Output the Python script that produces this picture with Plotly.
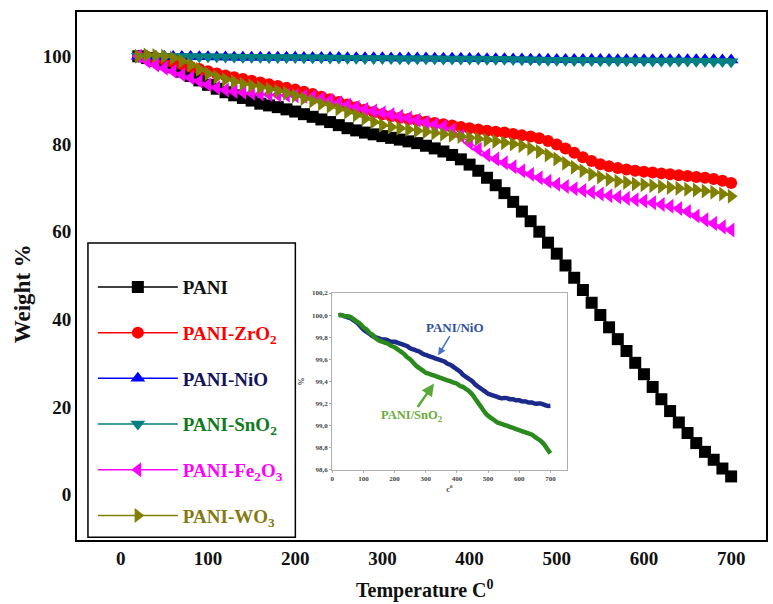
import plotly.graph_objects as go

temperature = list(range(20, 710, 10))

pani = [100.0, 99.6, 99.0, 98.3, 97.5, 96.5, 95.5, 94.5, 93.5, 92.6,
        91.8, 91.1, 90.5, 89.9, 89.2, 88.8, 88.4, 87.9, 87.4, 86.8,
        86.2, 85.6, 85.0, 84.3, 83.6, 83.1, 82.6, 82.2, 81.8, 81.4,
        81.0, 80.6, 80.2, 79.6, 79.0, 78.3, 77.5, 76.5, 75.3, 73.9,
        72.3, 70.6, 68.8, 66.8, 64.6, 62.4, 60.0, 57.5, 55.0, 52.3,
        49.5, 46.7, 43.8, 41.0, 38.2, 35.5, 32.8, 30.1, 27.5, 24.6,
        21.8, 19.1, 16.5, 14.1, 11.8, 9.8, 8.0, 6.0, 4.2]

pani_zro2 = [100.0, 99.9, 99.6, 99.2, 98.7, 98.2, 97.6, 97.1, 96.6, 96.1,
             95.6, 95.2, 94.8, 94.4, 94.0, 93.6, 93.2, 92.8, 92.4, 91.9,
             91.4, 90.8, 90.2, 89.6, 89.0, 88.4, 87.8, 87.3, 86.8, 86.4,
             86.0, 85.7, 85.4, 85.1, 84.8, 84.5, 84.2, 83.9, 83.6, 83.3,
             83.0, 82.8, 82.6, 82.3, 82.0, 81.7, 81.3, 80.7, 79.9, 79.0,
             78.0, 77.0, 76.1, 75.4, 74.9, 74.5, 74.2, 73.9, 73.7, 73.5,
             73.3, 73.1, 72.9, 72.7, 72.5, 72.3, 72.0, 71.6, 71.1]

pani_nio = [100.00, 100.00, 99.99, 99.98, 99.97, 99.95, 99.93, 99.90, 99.87, 99.85,
            99.83, 99.81, 99.80, 99.79, 99.78, 99.78, 99.77, 99.76, 99.76, 99.75,
            99.74, 99.73, 99.72, 99.70, 99.69, 99.68, 99.67, 99.65, 99.64, 99.63,
            99.62, 99.61, 99.60, 99.59, 99.58, 99.56, 99.55, 99.53, 99.51, 99.49,
            99.46, 99.44, 99.42, 99.40, 99.37, 99.35, 99.33, 99.31, 99.29, 99.28,
            99.27, 99.26, 99.25, 99.25, 99.25, 99.24, 99.24, 99.23, 99.23, 99.22,
            99.22, 99.21, 99.21, 99.20, 99.20, 99.20, 99.19, 99.18, 99.18]

pani_sno2 = [100.00, 100.00, 99.99, 99.99, 99.98, 99.96, 99.94, 99.92, 99.89, 99.87,
             99.84, 99.82, 99.79, 99.77, 99.76, 99.75, 99.74, 99.72, 99.71, 99.69,
             99.67, 99.65, 99.62, 99.60, 99.57, 99.54, 99.52, 99.50, 99.48, 99.47,
             99.46, 99.45, 99.44, 99.43, 99.42, 99.41, 99.40, 99.39, 99.38, 99.36,
             99.35, 99.33, 99.31, 99.28, 99.24, 99.20, 99.16, 99.12, 99.09, 99.07,
             99.05, 99.03, 99.02, 99.01, 99.00, 98.99, 98.98, 98.97, 98.96, 98.95,
             98.94, 98.93, 98.92, 98.90, 98.88, 98.86, 98.83, 98.79, 98.75]

pani_fe2o3 = [100.0, 98.9, 98.0, 97.3, 96.6, 95.8, 95.1, 94.3, 93.5, 92.8,
              92.3, 92.0, 91.8, 91.6, 91.4, 91.3, 91.2, 91.1, 91.0, 90.9,
              90.7, 90.3, 89.9, 89.4, 88.9, 88.4, 87.9, 87.5, 87.1, 86.7,
              86.3, 85.9, 85.4, 84.9, 84.4, 84.0, 83.2, 81.8, 80.2, 78.8,
              77.5, 76.6, 75.7, 74.8, 73.9, 73.1, 72.3, 71.5, 70.8, 70.3,
              69.8, 69.4, 69.0, 68.6, 68.2, 67.9, 67.6, 67.3, 67.0, 66.6,
              66.2, 65.8, 65.3, 64.6, 63.6, 62.7, 61.9, 61.1, 60.4]

pani_wo3 = [100.0, 100.3, 100.2, 100.0, 99.6, 98.9, 98.0, 97.0, 96.0, 95.3,
            94.7, 94.2, 93.7, 93.3, 92.9, 92.5, 92.1, 91.6, 91.0, 90.4,
            89.8, 89.2, 88.6, 88.0, 87.3, 86.6, 85.8, 85.0, 84.3, 83.9,
            83.6, 83.3, 83.0, 82.8, 82.5, 82.2, 82.0, 81.7, 81.4, 81.2,
            80.9, 80.6, 80.3, 80.0, 79.6, 79.0, 78.3, 77.5, 76.6, 75.6,
            74.7, 73.9, 73.1, 72.5, 71.9, 71.5, 71.2, 70.9, 70.7, 70.5,
            70.3, 70.1, 69.9, 69.7, 69.5, 69.3, 69.0, 68.6, 68.1]

series_names = ["PANI", "PANI-ZrO<sub>2</sub>", "PANI-NiO", "PANI-SnO<sub>2</sub>",
                "PANI-Fe<sub>2</sub>O<sub>3</sub>", "PANI-WO<sub>3</sub>"]
x_ticks = [0, 100, 200, 300, 400, 500, 600, 700]
y_ticks = [0, 20, 40, 60, 80, 100]
inset_y_ticks = [98.6, 98.8, 99.0, 99.2, 99.4, 99.6, 99.8, 100.0, 100.2]
inset_y_labels = ["98,6", "98,8", "99,0", "99,2", "99,4", "99,6", "99,8", "100,0", "100,2"]

series_values = [pani, pani_zro2, pani_nio, pani_sno2, pani_fe2o3, pani_wo3]
line_colors = ["#000000", "#ff0000", "#0000ff", "#008080", "#ff00ff", "#808000"]
text_colors = ["#111111", "#ff0000", "#13135e", "#107a1c", "#ff00ff", "#857a12"]
symbols = ["square", "circle", "triangle-up", "triangle-down", "triangle-left", "triangle-right"]
sizes = [12, 12, 13, 13, 13, 13]

SERIF = "Liberation Serif, Times New Roman, serif"

fig = go.Figure()
for i, (nm, vals, lc, tc, sym, sz) in enumerate(zip(series_names, series_values, line_colors,
                                                     text_colors, symbols, sizes)):
    fig.add_trace(go.Scatter(
        x=temperature, y=vals, mode="lines+markers",
        name=f"<span style='color:{tc}'>{nm}</span>",
        line=dict(color=lc, width=1.5),
        marker=dict(symbol=sym, size=sz, color=lc, line=dict(width=0)),
        legendgroup=str(i), xaxis="x", yaxis="y",
    ))

# inset
fig.add_trace(go.Scatter(x=temperature, y=pani_nio, mode="lines", showlegend=False,
                         line=dict(color="#1c2a8c", width=4.5, shape="spline"),
                         xaxis="x2", yaxis="y2"))
fig.add_trace(go.Scatter(x=temperature, y=pani_sno2, mode="lines", showlegend=False,
                         line=dict(color="#2a8a1e", width=4.5, shape="spline"),
                         xaxis="x2", yaxis="y2"))

fig.update_layout(
    width=773, height=604,
    margin=dict(l=77, r=5, t=12, b=64),
    paper_bgcolor="white", plot_bgcolor="white",
    font=dict(family=SERIF, color="black"),
    xaxis=dict(range=[-50.3, 740], tickvals=x_ticks, showline=True, linecolor="black",
               linewidth=2, mirror=True, ticks="", showgrid=False, zeroline=False,
               tickfont=dict(family=SERIF, size=19, weight="bold", color="#111")),
    yaxis=dict(range=[-10.3, 110.1], tickvals=y_ticks, showline=True, linecolor="black",
               linewidth=2, mirror=True, ticks="", showgrid=False, zeroline=False,
               tickfont=dict(family=SERIF, size=19, weight="bold", color="#111")),
    xaxis2=dict(domain=[0.3705, 0.7106], anchor="y2", range=[0, 752], tickvals=x_ticks,
                showline=True, linecolor="#b0b0b0", linewidth=1, mirror=True,
                ticks="outside", ticklen=2, tickcolor="#b0b0b0", showgrid=False, zeroline=False,
                tickfont=dict(family=SERIF, size=7, weight="bold", color="#444"),
                title=dict(text="c<sup>o</sup>", standoff=2,
                           font=dict(family=SERIF, size=8, weight="bold", color="#444"))),
    yaxis2=dict(domain=[0.1326, 0.4678], anchor="x2", range=[98.6, 100.2],
                tickvals=inset_y_ticks, ticktext=inset_y_labels,
                showline=True, linecolor="#b0b0b0", linewidth=1, mirror=True,
                ticks="outside", ticklen=2, tickcolor="#b0b0b0", showgrid=False, zeroline=False,
                tickfont=dict(family=SERIF, size=7, weight="bold", color="#444"),
                title=dict(text="%", standoff=6,
                           font=dict(family=SERIF, size=8, weight="bold", color="#444"))),
    legend=dict(x=0.023, y=0.515, xanchor="left", yanchor="top",
                bgcolor="rgba(0,0,0,0)", borderwidth=0,
                font=dict(family=SERIF, size=19, weight="bold"),
                itemwidth=80, tracegroupgap=18),
    shapes=[dict(type="rect", xref="paper", yref="paper", x0=0.0159, x1=0.3169,
                 y0=0.005, y1=0.5625, line=dict(color="black", width=1.5),
                 fillcolor="white", layer="below")],
    annotations=[
        dict(text="<b>Weight %</b>", xref="paper", yref="paper", x=-0.078, y=0.466,
             xanchor="center", yanchor="middle",
             textangle=-90, showarrow=False, font=dict(family=SERIF, size=23, color="#111")),
        dict(text="<b>Temperature C<sup>0</sup></b>", xref="paper", yref="paper", x=0.505,
             y=-0.0935, xanchor="center", yanchor="middle",
             showarrow=False, font=dict(family=SERIF, size=20, color="#111")),
        dict(text="<b>PANI/NiO</b>", xref="x2", yref="y2", x=340, y=99.638, ax=17, ay=-28,
             showarrow=True, arrowhead=2, arrowsize=1, arrowwidth=1.5, arrowcolor="#4472c4",
             font=dict(family=SERIF, size=13, color="#2f4f9f")),
        dict(text="<b>PANI/SnO<sub>2</sub></b>", xref="x2", yref="y2", x=326.5, y=99.382,
             ax=-23, ay=33, showarrow=True, arrowhead=2, arrowsize=1, arrowwidth=2.5,
             arrowcolor="#5aa83a", font=dict(family=SERIF, size=12.5, color="#6aaa3a")),
    ],
)

fig.write_html("out.html", config={"displayModeBar": False},
               post_script="document.body.style.margin='0px';")
